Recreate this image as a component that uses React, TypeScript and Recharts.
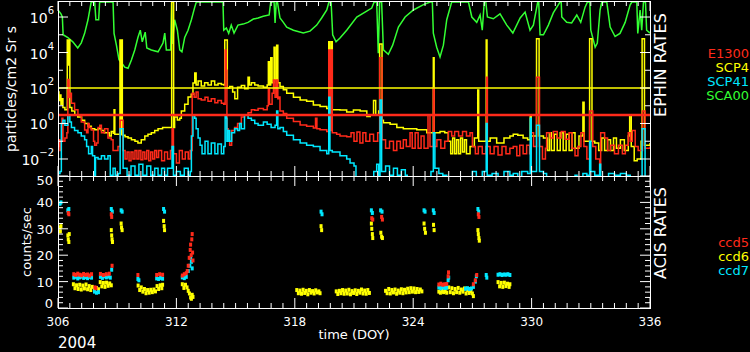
import React from "react";
import {
  Line,
  LineChart,
  ReferenceLine,
  Scatter,
  ScatterChart,
  XAxis,
  YAxis,
} from "recharts";

type Pt = [number, number];

// x axis (day of year)
const dayLabels = [306, 312, 318, 324, 330, 336];
const logLabels = [1e6, 1e4, 1e2, 1, 1e-2];
const countLabels = [0, 10, 20, 30, 40, 50];

const ephinLegend = ["E1300", "SCP4", "SCP41", "SCA00"];
const acisLegend = ["ccd5", "ccd6", "ccd7"];

// EPHIN rates, particles/cm2 Sr s
const sca00: Pt[] = [
  [306.0, 2.5e6], [306.15, 1.5e6], [306.22, 1e6], [306.26, 1e5], [306.5, 7e4], [306.75, 4e4],
  [307.0, 1.8e4], [307.18, 3.5e4], [307.35, 1.2e5], [307.52, 7e5], [307.68, 7e6], [307.86, 7e6],
  [307.92, 7e5], [308.06, 7e5], [308.11, 7e6], [308.79, 7e6], [308.84, 1.2e5], [308.96, 2.6e4],
  [309.09, 4e3], [309.3, 2e3], [309.38, 1.5e3], [309.55, 1.3e3], [309.72, 3.8e3], [309.89, 1.4e4],
  [310.05, 7e4], [310.17, 1.8e5], [310.27, 4e4], [310.42, 1.4e5], [310.5, 1.8e4], [310.73, 1.4e4],
  [311.07, 1.1e4], [311.32, 3.4e4], [311.41, 1.25e5], [311.49, 1.4e4], [311.71, 1.4e4], [311.76, 7e6],
  [311.8, 3e4], [311.91, 7e5], [312.05, 1.8e5], [312.17, 1.4e4], [312.28, 1.1e4], [312.42, 7e4],
  [312.59, 1.8e5], [312.76, 7e5], [312.93, 3.6e6], [313.01, 7e6], [314.36, 7e6], [314.4, 1.8e5],
  [314.53, 2.4e5], [314.65, 1.2e5], [314.78, 3.5e5], [314.92, 1.25e5], [315.12, 3.5e5], [315.38, 4e5],
  [315.63, 5e5], [315.9, 7.7e5], [316.14, 8.8e5], [316.4, 1.1e6], [316.7, 1.3e6], [316.78, 7e6],
  [316.95, 7e6], [317.0, 4.6e5], [317.06, 7e6], [317.12, 7e6], [317.25, 8.8e5], [317.42, 5e5],
  [317.59, 2.7e5], [317.93, 1.8e5], [318.43, 1.25e5], [318.77, 1.6e5], [319.11, 3.5e5], [319.36, 8.8e5],
  [319.62, 2.5e6], [319.73, 7e6], [319.84, 7e6], [319.92, 1e5], [320.09, 4e4], [320.29, 6.5e4],
  [320.63, 1.8e5], [321.14, 1e6], [321.56, 1.9e6], [321.9, 3.2e6], [322.02, 7e6], [322.15, 7e6],
  [322.23, 9e3], [322.3, 7e6], [322.4, 7e6], [322.49, 1.4e4], [322.74, 8e3], [322.96, 2.6e4],
  [323.25, 2.7e5], [323.59, 1e6], [324.01, 2.5e6], [324.52, 5e6], [324.86, 7e6], [324.97, 7e6],
  [325.02, 1.25e5], [325.19, 2e4], [325.36, 5.6e3], [325.53, 2.6e4], [325.7, 7e5], [325.95, 7e6],
  [326.8, 7e6], [326.97, 1e6], [327.22, 5e5], [327.39, 1.3e6], [327.5, 1.8e5], [327.6, 7e6],
  [327.68, 7e6], [327.76, 1e6], [328.06, 8e5], [328.4, 1.5e6], [328.74, 3.5e5], [329.05, 1.25e5],
  [329.42, 8.8e5], [329.67, 1.9e6], [329.92, 1.8e5], [330.09, 3.5e5], [330.31, 7e6], [330.36, 7e6],
  [330.43, 1e5], [330.6, 1e5], [330.85, 3.5e5], [331.1, 1.7e6], [331.36, 5e6], [331.44, 7e6],
  [331.5, 7e6], [331.53, 1e6], [331.78, 5e5], [332.03, 4.6e5], [332.29, 1.3e6], [332.49, 5e5],
  [332.71, 3.6e6], [332.83, 7e6], [332.95, 7e6], [333.0, 1.8e5], [333.22, 2e4], [333.33, 3.4e4],
  [333.47, 2.5e6], [333.56, 7e6], [333.81, 7e6], [333.98, 2.7e5], [334.23, 8e4], [334.48, 1.2e5],
  [334.74, 5e5], [334.99, 4.7e6], [335.08, 7e6], [335.33, 7e6], [335.38, 1.2e5], [335.5, 2.5e6],
  [335.58, 1.8e5], [335.67, 7e6], [335.77, 7e6], [335.83, 1.8e5], [336.0, 1.25e5],
];

const scp4: Pt[] = [
  [306.0, 60], [306.05, 20], [306.1, 40], [306.15, 12], [306.2, 25], [306.25, 8], [306.35, 6],
  [306.45, 6], [306.47, 5e4], [306.5, 2e3], [306.56, 5e4], [306.6, 8], [306.7, 5], [306.85, 3],
  [307.0, 2.3], [307.2, 1.5], [307.35, 1.0], [307.52, 0.7], [307.69, 0.5], [307.86, 0.45],
  [308.03, 0.5], [308.2, 0.4], [308.35, 0.3], [308.5, 0.3], [308.6, 0.2], [308.7, 0.35],
  [308.8, 0.28], [308.84, 6], [308.88, 0.25], [309.0, 0.25], [309.14, 5e4], [309.18, 0.25],
  [309.22, 5e4], [309.26, 0.22], [309.4, 0.18], [309.55, 0.15], [309.72, 0.12], [309.9, 0.1],
  [310.05, 0.08], [310.22, 0.12], [310.4, 0.2], [310.56, 0.25], [310.73, 0.3], [310.9, 0.4],
  [311.07, 0.5], [311.3, 0.6], [311.5, 0.6], [311.7, 0.6], [311.76, 7e6], [311.82, 7e6],
  [311.86, 0.6], [311.91, 2.3], [312.05, 1.6], [312.17, 2.0], [312.25, 5], [312.42, 12],
  [312.59, 31], [312.75, 45], [312.84, 190], [312.93, 700], [313.0, 150], [313.1, 250],
  [313.26, 130], [313.43, 200], [313.6, 150], [313.77, 250], [313.94, 150], [314.11, 180],
  [314.28, 160], [314.4, 150], [314.45, 5e4], [314.53, 5e4], [314.58, 100], [314.7, 120],
  [314.85, 60], [314.96, 25], [315.1, 110], [315.29, 140], [315.46, 90], [315.63, 400],
  [315.7, 150], [315.8, 200], [315.97, 150], [316.14, 130], [316.41, 110], [316.6, 150],
  [316.66, 3e3], [316.72, 150], [316.78, 5e3], [316.85, 200], [316.95, 2e4], [317.0, 300],
  [317.08, 2.6e4], [317.14, 200], [317.25, 120], [317.42, 80], [317.59, 50], [317.93, 30],
  [318.27, 21], [318.6, 18], [318.94, 11], [319.28, 9], [319.62, 7], [319.72, 4e4], [319.76, 6],
  [319.84, 4e4], [319.9, 6], [320.29, 5.8], [320.63, 4.5], [320.97, 5.8], [321.31, 5],
  [321.65, 2.5], [321.82, 3], [321.99, 20], [322.1, 3], [322.25, 5], [322.3, 3e4], [322.36, 3e4],
  [322.42, 1.5], [322.49, 1.1], [322.83, 0.9], [323.17, 0.6], [323.5, 0.5], [323.84, 0.5],
  [324.18, 0.45], [324.69, 0.3], [324.98, 0.3], [325.02, 5e3], [325.06, 0.3], [325.36, 0.35],
  [325.6, 0.3], [325.78, 0.1], [325.9, 0.02], [326.0, 0.15], [326.1, 0.02], [326.2, 0.12],
  [326.3, 0.02], [326.4, 0.15], [326.5, 0.025], [326.6, 0.12], [326.7, 0.02], [326.88, 0.05],
  [327.1, 0.15], [327.27, 77], [327.32, 0.1], [327.66, 0.1], [327.7, 5e4], [327.74, 0.1],
  [327.9, 0.15], [328.23, 0.08], [328.6, 0.15], [328.9, 0.2], [329.07, 0.25], [329.3, 0.22],
  [329.57, 0.15], [329.8, 0.12], [329.93, 3], [329.98, 0.2], [330.25, 6e4], [330.33, 6e4],
  [330.38, 0.2], [330.6, 0.15], [330.8, 0.03], [330.9, 0.3], [331.0, 0.03], [331.15, 0.25],
  [331.3, 0.03], [331.45, 0.3], [331.6, 0.03], [331.75, 0.25], [331.9, 0.03], [332.05, 0.3],
  [332.2, 0.04], [332.4, 0.2], [332.6, 16], [332.66, 0.1], [332.94, 6e4], [333.02, 6e4],
  [333.06, 0.1], [333.2, 0.08], [333.4, 0.03], [333.55, 0.15], [333.7, 0.03], [333.85, 0.12],
  [334.0, 0.03], [334.15, 0.15], [334.3, 0.04], [334.5, 0.12], [334.7, 0.03], [334.9, 0.2],
  [334.97, 3], [335.05, 0.05], [335.2, 0.008], [335.35, 0.01], [335.55, 0.1], [335.6, 6e4],
  [335.67, 6e4], [335.72, 0.06], [336.0, 0.08],
];

const e1300: Pt[] = [
  [306.0, 0.05], [306.05, 0.12], [306.1, 0.03], [306.15, 0.1], [306.2, 2], [306.25, 0.1],
  [306.35, 0.15], [306.45, 0.3], [306.5, 300], [306.56, 30], [306.6, 50], [306.68, 14],
  [306.84, 6], [307.01, 3], [307.18, 1.2], [307.35, 0.43], [307.45, 0.3], [307.52, 1.0],
  [307.58, 0.6], [307.69, 0.43], [307.8, 0.1], [307.86, 0.06], [307.95, 0.08], [308.03, 0.6],
  [308.12, 0.8], [308.2, 0.3], [308.36, 0.5], [308.53, 0.15], [308.7, 0.12], [308.79, 0.03],
  [309.04, 0.05], [309.15, 1.5], [309.22, 1.5], [309.3, 0.03], [309.4, 0.01], [309.5, 0.025],
  [309.6, 0.008], [309.7, 0.025], [309.8, 0.01], [309.9, 0.03], [310.0, 0.01], [310.1, 0.03],
  [310.2, 0.009], [310.3, 0.025], [310.4, 0.01], [310.5, 0.03], [310.6, 0.008], [310.7, 0.025],
  [310.8, 0.01], [310.9, 0.03], [311.0, 0.012], [311.1, 0.03], [311.25, 0.008], [311.4, 0.025],
  [311.55, 0.01], [311.7, 0.03], [311.78, 0.5], [311.85, 0.02], [312.0, 0.006], [312.15, 0.03],
  [312.3, 0.01], [312.45, 0.025], [312.6, 0.01], [312.7, 0.03], [312.8, 50], [312.9, 30],
  [313.0, 60], [313.1, 25], [313.26, 21], [313.45, 30], [313.6, 18], [313.77, 25], [313.95, 15],
  [314.1, 20], [314.28, 14], [314.4, 12], [314.47, 1.4e4], [314.52, 1e3], [314.56, 0.5],
  [314.62, 0.1], [314.7, 0.06], [314.8, 0.4], [314.95, 0.6], [315.1, 1.0], [315.29, 2.3],
  [315.45, 3], [315.63, 4], [315.8, 6], [315.97, 5.5], [316.14, 7], [316.41, 6], [316.6, 10],
  [316.66, 100], [316.72, 12], [316.85, 50], [316.92, 280], [317.0, 30], [317.08, 280],
  [317.14, 25], [317.2, 31], [317.25, 5], [317.42, 3.7], [317.59, 2], [317.93, 1.3],
  [318.27, 0.83], [318.6, 0.7], [318.94, 0.56], [319.05, 2], [319.12, 0.5], [319.28, 0.45],
  [319.62, 0.35], [319.72, 1.4e4], [319.78, 0.4], [319.84, 1.4e4], [319.9, 0.3], [320.12, 0.25],
  [320.29, 0.2], [320.63, 0.18], [320.85, 0.3], [321.0, 0.1], [321.15, 0.33], [321.3, 0.08],
  [321.45, 0.3], [321.6, 0.1], [321.8, 0.25], [321.99, 0.1], [322.2, 0.3], [322.3, 5e3],
  [322.36, 5e3], [322.42, 0.12], [322.6, 0.04], [322.8, 0.1], [323.0, 0.03], [323.17, 0.1],
  [323.35, 0.04], [323.5, 0.12], [323.65, 0.05], [323.84, 0.3], [323.95, 0.04], [324.1, 0.3],
  [324.25, 0.04], [324.4, 0.2], [324.55, 0.04], [324.75, 3], [324.85, 0.05], [325.02, 100],
  [325.06, 0.05], [325.2, 0.12], [325.4, 0.04], [325.6, 0.1], [325.78, 0.35], [325.95, 0.2],
  [326.1, 0.35], [326.3, 0.2], [326.5, 0.35], [326.7, 0.2], [326.88, 0.3], [327.0, 0.05],
  [327.15, 0.02], [327.3, 0.05], [327.5, 0.02], [327.68, 0.05], [327.72, 400], [327.76, 0.05],
  [327.9, 0.02], [328.1, 0.05], [328.3, 0.017], [328.5, 0.05], [328.7, 0.02], [328.9, 0.04],
  [329.07, 0.05], [329.25, 0.015], [329.4, 0.06], [329.57, 0.02], [329.75, 0.06], [329.9, 0.02],
  [329.97, 0.3], [330.1, 0.05], [330.25, 400], [330.33, 400], [330.4, 0.05], [330.55, 0.01],
  [330.7, 0.04], [330.76, 0.3], [330.95, 0.15], [331.1, 0.35], [331.3, 0.15], [331.5, 0.35],
  [331.7, 0.13], [331.9, 0.3], [332.05, 0.04], [332.2, 0.015], [332.35, 0.05], [332.5, 0.3],
  [332.65, 0.05], [332.8, 0.01], [332.94, 5], [333.02, 5], [333.1, 0.05], [333.25, 0.01],
  [333.45, 0.002], [333.5, 0.3], [333.7, 0.15], [333.85, 0.03], [334.0, 0.06], [334.2, 0.02],
  [334.4, 0.06], [334.6, 0.02], [334.75, 0.06], [334.9, 0.3], [335.0, 0.1], [335.1, 0.4],
  [335.25, 0.05], [335.4, 0.03], [335.62, 5], [335.68, 5], [335.75, 0.04], [336.0, 0.05],
];

const scp41: Pt[] = [
  [306.0, 0.0015], [306.1, 0.002], [306.17, 1.0], [306.25, 1.5], [306.35, 0.8], [306.5, 3],
  [306.6, 1.2], [306.68, 0.6], [306.84, 0.4], [307.01, 0.3], [307.18, 0.2], [307.35, 0.12],
  [307.45, 0.05], [307.55, 0.02], [307.69, 0.05], [307.75, 0.015], [307.86, 0.0012],
  [307.9, 0.012], [308.03, 0.01], [308.2, 0.015], [308.36, 0.01], [308.53, 0.015],
  [308.65, 0.0012], [308.79, 0.003], [308.9, 0.0012], [309.05, 0.0015], [309.15, 0.5],
  [309.22, 0.5], [309.3, 0.003], [309.5, 0.0012], [309.7, 0.004], [309.9, 0.0012], [310.1, 0.005],
  [310.3, 0.0012], [310.5, 0.004], [310.7, 0.0012], [310.9, 0.003], [311.07, 0.0012],
  [311.25, 0.003], [311.4, 0.0012], [311.55, 0.003], [311.78, 0.05], [311.85, 0.0012],
  [312.0, 0.002], [312.2, 0.0012], [312.4, 0.003], [312.6, 0.0012], [312.7, 0.002], [312.76, 0.2],
  [312.84, 3], [312.93, 2], [313.0, 0.5], [313.1, 0.15], [313.2, 0.06], [313.3, 0.02],
  [313.45, 0.1], [313.6, 0.02], [313.77, 0.08], [313.95, 0.02], [314.1, 0.07], [314.28, 0.02],
  [314.4, 0.05], [314.47, 3], [314.53, 2], [314.56, 0.1], [314.62, 0.4], [314.7, 0.1],
  [314.8, 0.3], [314.95, 0.5], [315.1, 0.4], [315.2, 1.0], [315.29, 0.5], [315.45, 3],
  [315.63, 2], [315.8, 1.5], [315.97, 1], [316.14, 0.8], [316.41, 1.2], [316.6, 0.9],
  [316.8, 0.6], [317.0, 0.8], [317.08, 5], [317.14, 0.5], [317.25, 0.6], [317.42, 0.35],
  [317.59, 0.22], [317.93, 0.12], [318.27, 0.08], [318.6, 0.06], [318.94, 0.05], [319.28, 0.03],
  [319.62, 0.02], [319.72, 30], [319.78, 0.03], [319.9, 0.025], [320.29, 0.015], [320.63, 0.01],
  [320.8, 0.006], [321.0, 0.004], [321.1, 0.0005], [321.9, 0.0005], [322.0, 0.002],
  [322.15, 0.005], [322.25, 0.0012], [322.32, 21], [322.4, 0.002], [322.6, 0.004],
  [322.8, 0.0012], [323.0, 0.003], [323.2, 0.0012], [323.4, 0.0025], [323.6, 0.0012],
  [323.7, 0.0005], [324.8, 0.0005], [324.9, 0.002], [325.02, 0.3], [325.1, 0.003],
  [325.3, 0.0015], [325.5, 0.0012], [325.7, 0.0008], [326.0, 0.0005], [326.9, 0.0005],
  [327.0, 0.002], [327.2, 0.0005], [327.5, 0.002], [327.7, 1.0], [327.75, 0.0012],
  [328.0, 0.0015], [328.3, 0.0005], [328.6, 0.002], [328.9, 0.0012], [329.07, 0.0015],
  [329.3, 0.0008], [329.5, 0.002], [329.8, 0.0015], [329.93, 2], [329.98, 0.002], [330.25, 0.8],
  [330.33, 0.8], [330.4, 0.002], [330.6, 0.0015], [330.76, 0.0005], [332.1, 0.0005],
  [332.2, 0.0012], [332.3, 0.0005], [332.6, 0.0015], [332.8, 0.0012], [332.94, 0.1],
  [333.0, 0.002], [333.2, 0.0012], [333.45, 0.005], [333.5, 0.0005], [333.9, 0.0015],
  [334.2, 0.0012], [334.5, 0.0015], [334.8, 0.0012], [335.0, 0.0005], [335.6, 0.5],
  [335.67, 0.5], [335.75, 0.0005], [336.0, 0.0012],
];

// ACIS rates, counts/sec
const ccd5: Pt[] = [
  [306.52, 36], [306.55, 35.5],
  [306.8, 12.8], [306.9, 12.5], [307.0, 13], [307.1, 12.6], [307.2, 12.4], [307.3, 12.9],
  [307.4, 12.5], [307.5, 12.7], [307.6, 12.3], [307.7, 12.8], [307.87, 7.8], [307.92, 7.5],
  [308.15, 12.9], [308.3, 12.5], [308.45, 12.8], [308.6, 13], [308.7, 35.5], [308.72, 34.5],
  [308.74, 16], [310.05, 12.5], [311.0, 12.5], [311.15, 12.8], [311.3, 12.6],
  [312.3, 12.3], [312.4, 12.8], [312.5, 13.2], [312.55, 14], [312.6, 16], [312.65, 19],
  [312.7, 22], [312.72, 24], [312.75, 20], [312.78, 26], [312.8, 28], [312.82, 21], [312.84, 18],
  [321.9, 34], [321.95, 33.5], [322.4, 34.5], [322.44, 33.5],
  [325.3, 8.9], [325.4, 9.2], [325.5, 8.8], [325.6, 9.0], [325.7, 9.1], [325.77, 12], [325.79, 13.5],
  [327.05, 9], [327.15, 10.5], [327.22, 12.5], [327.3, 35.5], [327.33, 34.5],
];

const ccd6: Pt[] = [
  [306.1, 30.5], [306.12, 29], [306.15, 31], [306.5, 27.5], [306.52, 26], [306.55, 25], [306.57, 28],
  [306.78, 9.0], [306.86, 7.5], [306.94, 8.6], [307.02, 7.2], [307.1, 8.8], [307.18, 7.0],
  [307.26, 8.5], [307.34, 7.4], [307.42, 8.9], [307.5, 7.1], [307.58, 8.3], [307.66, 6.8],
  [307.74, 8.0], [307.85, 7.3], [307.95, 7.6], [308.05, 7.1],
  [308.14, 9.8], [308.22, 8.2], [308.3, 9.5], [308.38, 8.0], [308.46, 9.6], [308.54, 8.4],
  [308.62, 9.3], [308.7, 8.6], [308.7, 29.5], [308.72, 27.5], [308.74, 26], [308.76, 25],
  [309.2, 32], [309.22, 30.5], [309.25, 29.5],
  [310.06, 8.5], [310.14, 6.8], [310.22, 7.8], [310.3, 6.2], [310.38, 7.2], [310.46, 5.6],
  [310.54, 6.8], [310.62, 5.8], [310.7, 6.9], [310.78, 6.0], [310.86, 7.0], [310.94, 6.3],
  [311.02, 8.3], [311.1, 7.2], [311.18, 8.6], [311.26, 7.5], [311.3, 8.8],
  [311.35, 33], [311.38, 31], [311.4, 29.5],
  [312.3, 9.0], [312.38, 7.6], [312.46, 8.8], [312.54, 7.8], [312.6, 6.5], [312.66, 5.5],
  [312.72, 4], [312.76, 3.5], [312.8, 5], [312.84, 4.2],
  [318.1, 6.8], [318.18, 5.6], [318.26, 6.6], [318.34, 5.4], [318.42, 6.9], [318.5, 5.7],
  [318.58, 6.5], [318.66, 5.2], [318.74, 6.8], [318.82, 5.8], [318.9, 6.4], [318.98, 5.5],
  [319.06, 6.7], [319.14, 5.9], [319.22, 6.3], [319.28, 5.6], [319.33, 31], [319.36, 29.5],
  [320.1, 6.3], [320.18, 5.3], [320.26, 6.5], [320.34, 5.6], [320.42, 6.8], [320.5, 5.4],
  [320.58, 6.6], [320.66, 5.5], [320.74, 6.9], [320.82, 5.2], [320.9, 6.4], [320.98, 5.7],
  [321.06, 6.7], [321.14, 5.3], [321.22, 6.5], [321.3, 5.8], [321.38, 7.0], [321.46, 5.5],
  [321.54, 6.6], [321.62, 5.4], [321.7, 6.8], [321.78, 5.7],
  [321.88, 32], [321.9, 30], [321.93, 28], [321.95, 26.5], [322.36, 28.5], [322.4, 27], [322.44, 26.5],
  [322.6, 6.5], [322.68, 5.6], [322.76, 7.2], [322.84, 5.5], [322.92, 6.8], [323.0, 5.9],
  [323.08, 7.0], [323.16, 5.4], [323.24, 6.6], [323.32, 5.8], [323.4, 7.1], [323.48, 5.6],
  [323.56, 6.9], [323.64, 5.9], [323.72, 7.3], [323.8, 6.0], [323.88, 7.5], [323.96, 6.2],
  [324.04, 7.4], [324.12, 6.0], [324.2, 7.2], [324.28, 6.1], [324.36, 7.0], [324.44, 6.3],
  [324.55, 32], [324.58, 30], [324.62, 28.5], [325.03, 31.5], [325.06, 29.5],
  [325.3, 6.2], [325.38, 5.8], [325.46, 6.5], [325.54, 6.0], [325.62, 6.4], [325.7, 5.8],
  [325.8, 7.8], [325.88, 6.0], [325.96, 7.5], [326.04, 5.6], [326.12, 7.2], [326.2, 6.0],
  [326.28, 7.6], [326.36, 5.8], [326.44, 7.0], [326.52, 6.2], [326.6, 7.4], [326.68, 5.5],
  [326.76, 6.8], [326.84, 5.7], [326.92, 6.4], [327.0, 5.5], [327.05, 4.5],
  [327.28, 29.5], [327.3, 28], [327.33, 26.5], [327.35, 25.5],
  [328.3, 9.8], [328.38, 8.2], [328.46, 9.5], [328.54, 8.0], [328.62, 9.6], [328.7, 8.3],
  [328.78, 9.2], [328.86, 8.0], [328.9, 9.0],
];

const ccd7: Pt[] = [
  [306.1, 39.5], [306.15, 40], [306.5, 37], [306.55, 37.5],
  [306.8, 11.5], [306.9, 11.8], [307.0, 11.2], [307.1, 11.6], [307.2, 11.9], [307.3, 11.4],
  [307.4, 11.7], [307.5, 11.3], [307.6, 11.8], [307.7, 11.5], [307.85, 6.2], [307.95, 5.8],
  [308.05, 6.0], [308.15, 11.8], [308.25, 11.4], [308.35, 12], [308.45, 11.6], [308.55, 11.9],
  [308.65, 11.5], [308.7, 37.5], [308.75, 36.5], [308.72, 14.5], [309.2, 37], [309.25, 36.5],
  [310.05, 11], [310.1, 10.5], [311.0, 11.2], [311.1, 11], [311.2, 11.4], [311.3, 11.1],
  [311.35, 37.5], [311.4, 36.5], [312.3, 11.6], [312.4, 11.3], [312.5, 11.8], [312.6, 14],
  [312.68, 16], [312.72, 19], [312.76, 17.5], [312.8, 15], [319.33, 36.5], [319.38, 35.5],
  [321.88, 37], [321.93, 36], [322.35, 37], [322.42, 36.5], [324.55, 37], [324.6, 36.5],
  [325.02, 37], [325.06, 36], [325.3, 7.8], [325.4, 7.5], [325.5, 7.9], [325.6, 7.6],
  [325.7, 7.7], [325.77, 10.5], [325.8, 11.5], [326.65, 7.3], [326.75, 7.5], [326.85, 7.2],
  [326.95, 7.4], [327.05, 8], [327.15, 10], [327.2, 12], [327.28, 37.5], [327.32, 36.5],
  [327.7, 12.5], [327.73, 11.5], [328.3, 12.6], [328.4, 12.8], [328.5, 12.5], [328.6, 12.7],
  [328.7, 12.6], [328.8, 12.8], [328.9, 12.5],
];

const RED = "#ff2a1a";
const YELLOW = "#ffff00";
const CYAN = "#00e8ff";
const GREEN = "#33ff33";
const WHITE = "#ffffff";
const FONT = "'DejaVu Sans', sans-serif";

const LEFT = 58;
const RIGHT = 650;
const TOP = 1;
const MID = 176;
const BOT = 308;

const dayTicks = Array.from({ length: 51 }, (_, i) => 306 + i * 0.6);
const logTicks = [1e6, 1e5, 1e4, 1e3, 1e2, 10, 1, 0.1, 1e-2];
const countTicks = Array.from({ length: 26 }, (_, i) => i * 2);

const toRows = (pts: Pt[]) => pts.map(([t, v]) => ({ t, v }));

const majorDay = (v: number) => dayLabels.find((d) => Math.abs(d - v) < 1e-6);

function dayTickMarks(x: number, value: number, top: number, bottom: number) {
  const len = majorDay(value) !== undefined ? 10 : 5;
  return (
    <>
      <line x1={x} x2={x} y1={top} y2={top + len} stroke={WHITE} />
      <line x1={x} x2={x} y1={bottom} y2={bottom - len} stroke={WHITE} />
    </>
  );
}

function UpperDayTick(props: any) {
  const { x, payload } = props;
  return <g>{dayTickMarks(x, payload.value, TOP, MID)}</g>;
}

function LowerDayTick(props: any) {
  const { x, payload } = props;
  const d = majorDay(payload.value);
  return (
    <g>
      {dayTickMarks(x, payload.value, MID, BOT)}
      {d !== undefined && (
        <text x={x} y={326} textAnchor="middle" fill={WHITE} fontSize={12} fontFamily={FONT}>
          {d}
        </text>
      )}
    </g>
  );
}

function LogTick(props: any) {
  const { y, payload } = props;
  const v = payload.value;
  const e = Math.round(Math.log10(v));
  const major = logLabels.includes(v);
  const len = major ? 10 : 5;
  return (
    <g>
      <line x1={LEFT} x2={LEFT + len} y1={y} y2={y} stroke={WHITE} />
      <line x1={RIGHT} x2={RIGHT - len} y1={y} y2={y} stroke={WHITE} />
      {major && (
        <text x={LEFT - 4} y={y + 6} textAnchor="end" fill={WHITE} fontSize={14} fontFamily={FONT}>
          10
          <tspan dy={-9} fontSize={10}>
            {e < 0 ? `\u2212${-e}` : e}
          </tspan>
        </text>
      )}
    </g>
  );
}

function CountTick(props: any) {
  const { y, payload } = props;
  const v = payload.value;
  const major = countLabels.includes(v);
  const len = major ? 10 : 5;
  const dy = v === 50 ? 9 : v === 0 ? 0 : 5;
  return (
    <g>
      <line x1={LEFT} x2={LEFT + len} y1={y} y2={y} stroke={WHITE} />
      <line x1={RIGHT} x2={RIGHT - len} y1={y} y2={y} stroke={WHITE} />
      {major && (
        <text x={LEFT - 5} y={y + dy} textAnchor="end" fill={WHITE} fontSize={13} fontFamily={FONT}>
          {v}
        </text>
      )}
    </g>
  );
}

const dotShape = (color: string) => (p: any) =>
  <rect x={p.cx - 1.5} y={p.cy - 2} width={3} height={4} fill={color} />;

export default function App() {
  const legendColors = [RED, YELLOW, CYAN, GREEN];
  const acisColors = [RED, YELLOW, CYAN];
  return (
    <div
      style={{
        position: "absolute",
        left: 0,
        top: 0,
        width: 750,
        height: 352,
        background: "#000",
        overflow: "hidden",
      }}
    >
      <div style={{ position: "absolute", left: 0, top: 0 }}>
        <LineChart width={750} height={178} margin={{ top: TOP, right: 100, bottom: 1, left: 18 }}>
          <XAxis
            type="number"
            dataKey="t"
            domain={[306, 336]}
            allowDataOverflow
            ticks={dayTicks}
            interval={0}
            height={1}
            tickSize={0}
            tickMargin={0}
            axisLine={false}
            tickLine={false}
            tick={<UpperDayTick />}
          />
          <YAxis
            type="number"
            dataKey="v"
            scale="log"
            domain={[1.1e-3, 8e6]}
            allowDataOverflow
            ticks={logTicks}
            interval={0}
            width={40}
            tickSize={0}
            tickMargin={0}
            axisLine={false}
            tickLine={false}
            tick={<LogTick />}
          />
          <Line type="linear" data={toRows(sca00)} dataKey="v" stroke={GREEN} strokeWidth={1.5} dot={false} isAnimationActive={false} />
          <Line type="stepAfter" data={toRows(scp4)} dataKey="v" stroke={YELLOW} strokeWidth={1.5} dot={false} isAnimationActive={false} />
          <Line type="stepAfter" data={toRows(e1300)} dataKey="v" stroke={RED} strokeWidth={1.5} dot={false} isAnimationActive={false} />
          <Line type="stepAfter" data={toRows(scp41)} dataKey="v" stroke={CYAN} strokeWidth={1.5} dot={false} isAnimationActive={false} />
          <ReferenceLine y={100} stroke={YELLOW} strokeWidth={1.5} />
          <ReferenceLine y={3} stroke={RED} strokeWidth={2.5} />
        </LineChart>
      </div>
      <div style={{ position: "absolute", left: 0, top: 0 }}>
        <ScatterChart width={750} height={352} margin={{ top: MID, right: 100, bottom: 352 - BOT - 1, left: 18 }}>
          <XAxis
            type="number"
            dataKey="t"
            domain={[306, 336]}
            allowDataOverflow
            ticks={dayTicks}
            interval={0}
            height={1}
            tickSize={0}
            tickMargin={0}
            axisLine={false}
            tickLine={false}
            tick={<LowerDayTick />}
          />
          <YAxis
            type="number"
            dataKey="v"
            domain={[0, 50]}
            allowDataOverflow
            ticks={countTicks}
            interval={0}
            width={40}
            tickSize={0}
            tickMargin={0}
            axisLine={false}
            tickLine={false}
            tick={<CountTick />}
          />
          <Scatter data={toRows(ccd6)} fill={YELLOW} shape={dotShape(YELLOW)} isAnimationActive={false} />
          <Scatter data={toRows(ccd7)} fill={CYAN} shape={dotShape(CYAN)} isAnimationActive={false} />
          <Scatter data={toRows(ccd5)} fill={RED} shape={dotShape(RED)} isAnimationActive={false} />
        </ScatterChart>
      </div>
      <svg
        width={750}
        height={352}
        style={{ position: "absolute", left: 0, top: 0, pointerEvents: "none" }}
        fontFamily={FONT}
      >
        <rect x={LEFT + 0.5} y={TOP + 0.5} width={RIGHT - LEFT} height={BOT - TOP} fill="none" stroke={WHITE} />
        <line x1={LEFT} x2={RIGHT} y1={MID + 0.5} y2={MID + 0.5} stroke={WHITE} />
        <text transform="translate(16,89) rotate(-90)" textAnchor="middle" fill={WHITE} fontSize={14}>
          particles/cm2 Sr s
        </text>
        <text transform="translate(31,242) rotate(-90)" textAnchor="middle" fill={WHITE} fontSize={13}>
          counts/sec
        </text>
        <text transform="translate(666,65) rotate(-90)" textAnchor="middle" fill={WHITE} fontSize={16}>
          EPHIN RATES
        </text>
        <text transform="translate(666,233) rotate(-90)" textAnchor="middle" fill={WHITE} fontSize={16}>
          ACIS RATES
        </text>
        {ephinLegend.map((name, i) => (
          <text key={name} x={749} y={58 + i * 14} textAnchor="end" fill={legendColors[i]} fontSize={13}>
            {name}
          </text>
        ))}
        {acisLegend.map((name, i) => (
          <text key={name} x={749} y={247 + i * 14} textAnchor="end" fill={acisColors[i]} fontSize={13}>
            {name}
          </text>
        ))}
        <text x={354} y={339} textAnchor="middle" fill={WHITE} fontSize={13}>
          time (DOY)
        </text>
        <text x={58} y={348} fill={WHITE} fontSize={15}>
          2004
        </text>
      </svg>
    </div>
  );
}
